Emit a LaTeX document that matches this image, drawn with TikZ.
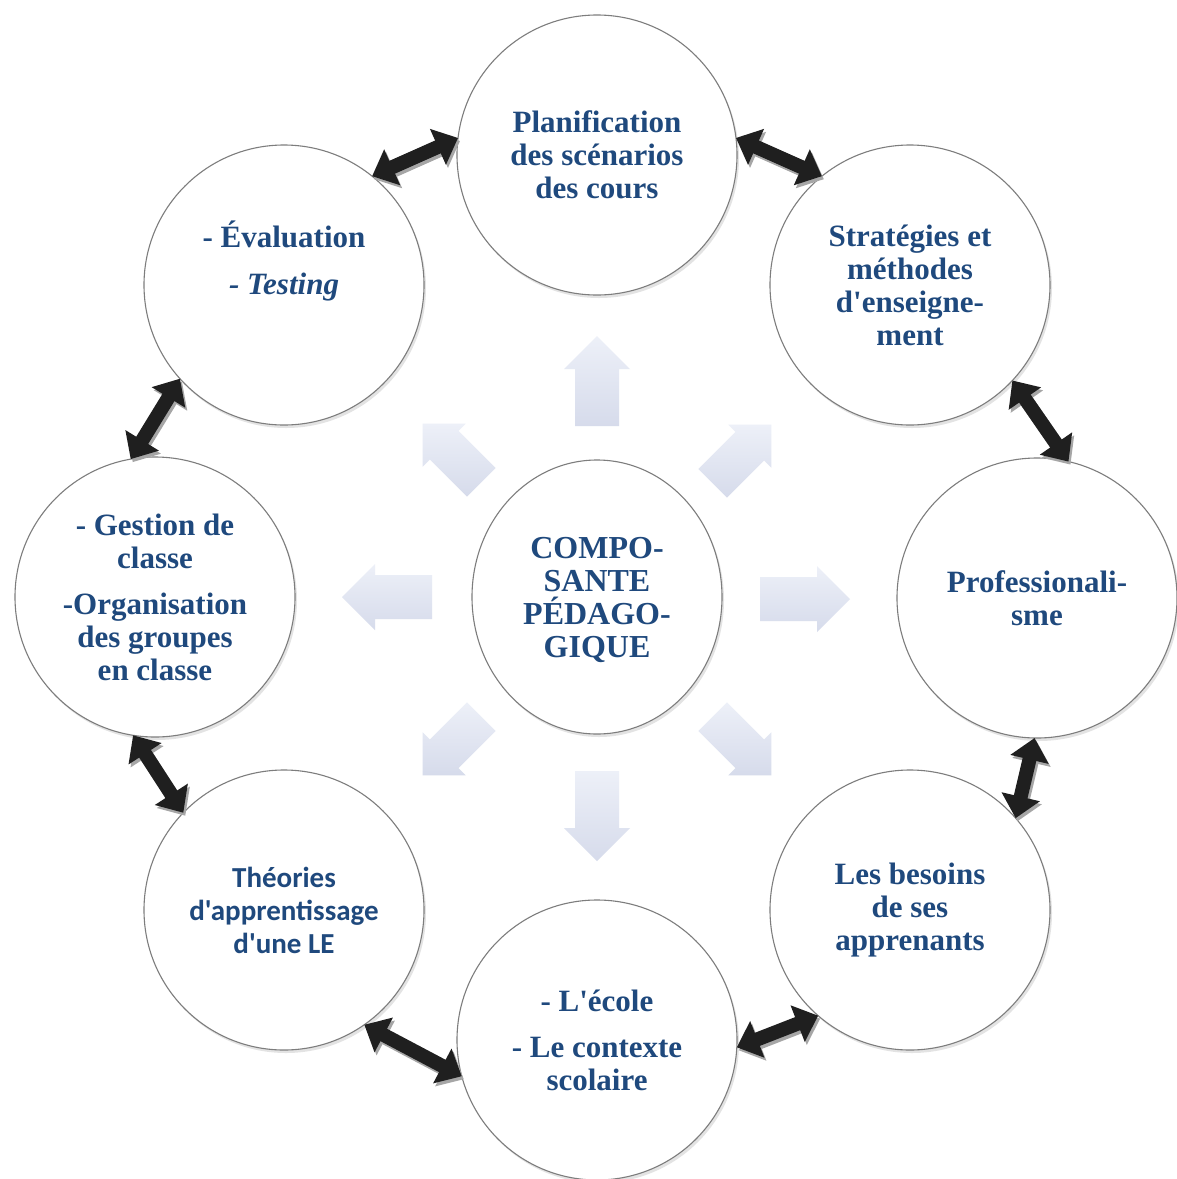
\documentclass[tikz,border=0pt]{standalone}
\usepackage{fontspec}
\setmainfont{Liberation Serif}
\newfontfamily\ser{Liberation Serif}
\newfontfamily\calib{Carlito}
\usetikzlibrary{arrows.meta,shapes.geometric,shadows}
\definecolor{txtblue}{RGB}{31,73,125}
\definecolor{blktop}{RGB}{237,240,248}
\definecolor{blkbot}{RGB}{214,219,235}
\definecolor{ringgray}{RGB}{125,125,125}
\begin{document}
\begin{tikzpicture}[x=1pt,y=-1pt,
  circ/.style={circle, draw=ringgray, line width=1.1pt, fill=white,
    minimum size=280pt, inner sep=0pt, outer sep=0pt, align=center,
    text=txtblue, font=\ser\bfseries\fontsize{31}{33}\selectfont,
    drop shadow={shadow xshift=2pt, shadow yshift=-3pt, opacity=0.22}},
  ctr/.style={circ, ellipse, minimum width=250pt, minimum height=274pt},
  txt/.style={align=center, text=txtblue, inner sep=0pt,
    font=\ser\bfseries\fontsize{31}{33}\selectfont},
  dbl/.style={line width=14pt, draw=black!88,
    {Triangle[width=38pt,length=22pt]}-{Triangle[width=38pt,length=22pt]}},
  dblsh/.style={dbl, draw=black!35, transform canvas={xshift=2pt,yshift=-3pt}},
  blk/.pic={\shade[top color=blktop, bottom color=blkbot]
    (-45,-22)--(12,-22)--(12,-33)--(45,0)--(12,33)--(12,22)--(-45,22)--cycle;}
]
\useasboundingbox (0,0) rectangle (1177,1179);
\fill[white] (0,0) rectangle (1177,1179);

% light block arrows
\pic[rotate=90] at (597,381) {blk};
\pic[rotate=-90] at (597,816) {blk};
\pic[rotate=0] at (805,599) {blk};
\pic[rotate=180] at (387,597) {blk};
\pic[rotate=45,scale=0.92] at (742,454) {blk};
\pic[rotate=135,scale=0.92] at (452,453) {blk};
\pic[rotate=225,scale=0.92] at (452,746) {blk};
\pic[rotate=-45,scale=0.92] at (742,746) {blk};

% circles
\node[circ] (top) at (597,155) {Planification\\des scénarios\\des cours};
\node[circ] (tr) at (910,285) {Stratégies et\\méthodes\\d'enseigne-\\ment};
\node[circ] (r) at (1037,598) {Professionali-\\sme};
\node[circ] (br) at (910,910) {Les besoins\\de ses\\apprenants};
\node[circ] (b) at (597,1040) {- L'école\\[13pt]- Le contexte\\scolaire};
\node[circ, font=\calib\bfseries\fontsize{29}{33}\selectfont] (bl) at (284,910) {Théories\\d'apprentissage\\d'une LE};
\node[circ] (l) at (155,597) {- Gestion de\\classe\\[13pt]-Organisation\\des groupes\\en classe};
\node[circ] (tl) at (284,285) {};
\node[txt] (tltxt) at (284,261) {- Évaluation\\[14pt]\itshape - Testing};
\node[ctr] (c) at (597,597) {};
\node[txt, font=\ser\bfseries\fontsize{32}{33}\selectfont] (ctxt) at (597,600) {COMPO-\\SANTE\\PÉDAGO-\\GIQUE};

% double arrows (shadows)
\draw[dblsh] (tl.51) -- (top.173);
\draw[dblsh] (top.7) -- (tr.129);
\draw[dblsh] (tr.317) -- (r.77);
\draw[dblsh] (r.269) -- (br.41);
\draw[dblsh] (br.229) -- (b.357);
\draw[dblsh] (bl.305) -- (b.195);
\draw[dblsh] (l.261) -- (bl.136);
\draw[dblsh] (l.100) -- (tl.222);
% double arrows
\draw[dbl] (tl.51) -- (top.173);
\draw[dbl] (top.7) -- (tr.129);
\draw[dbl] (tr.317) -- (r.77);
\draw[dbl] (r.269) -- (br.41);
\draw[dbl] (br.229) -- (b.357);
\draw[dbl] (bl.305) -- (b.195);
\draw[dbl] (l.261) -- (bl.136);
\draw[dbl] (l.100) -- (tl.222);
\end{tikzpicture}
\end{document}
